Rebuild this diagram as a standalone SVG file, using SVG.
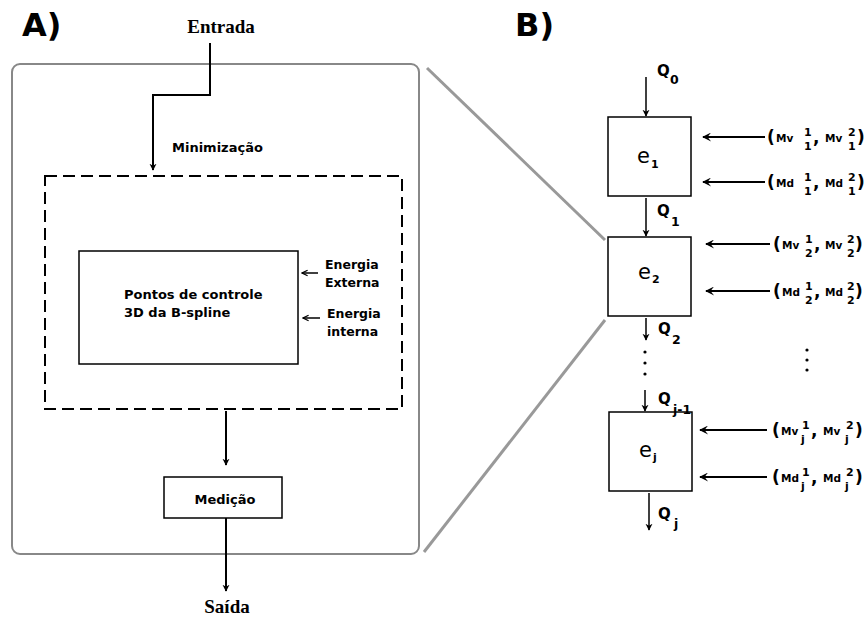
<svg xmlns="http://www.w3.org/2000/svg" width="867" height="618" viewBox="0 0 867 618">
<defs>
<style>
.b{font-family:"DejaVu Sans",sans-serif;font-weight:bold;fill:#000}
.ser{font-family:"Liberation Serif",serif;font-weight:bold;font-size:19px;fill:#000}
.big{font-size:32px}
.t13{font-size:13px}
.ln{stroke:#000;stroke-width:2;fill:none}
.thin{stroke:#000;stroke-width:1.5;fill:none}
.box{fill:#fff;stroke:#000;stroke-width:1.5}
.gray{stroke:#999;stroke-width:3;fill:none}
.e{font-family:"DejaVu Sans",sans-serif;font-size:21px;fill:#000}
.sub{font-family:"DejaVu Sans",sans-serif;font-weight:bold;font-size:11px;fill:#000}
.qs{font-family:"DejaVu Sans",sans-serif;font-weight:bold;font-size:12.5px;fill:#000}
.q{font-family:"DejaVu Sans",sans-serif;font-weight:bold;font-size:15px;fill:#000}
.par{font-family:"DejaVu Sans",sans-serif;font-weight:bold;font-size:17px;fill:#000}
.m{font-family:"DejaVu Sans",sans-serif;font-weight:bold;font-size:10.5px;fill:#000}
</style>
<marker id="ah" viewBox="0 0 10 10" refX="9" refY="5" markerWidth="7" markerHeight="9" markerUnits="userSpaceOnUse" orient="auto">
<path d="M0,0 L10,5 L0,10 L3,5 z" fill="#000"/>
</marker>
<marker id="ahw" viewBox="0 0 10 10" refX="9" refY="5" markerWidth="11" markerHeight="9" markerUnits="userSpaceOnUse" orient="auto">
<path d="M0,0 L10,5 L0,10 L4,5 z" fill="#000"/>
</marker>
<marker id="ao" viewBox="0 0 10 10" refX="9" refY="5" markerWidth="7" markerHeight="8" markerUnits="userSpaceOnUse" orient="auto">
<path d="M1,1 L9,5 L1,9" fill="none" stroke="#000" stroke-width="1.8"/>
</marker>
</defs>
<rect width="867" height="618" fill="#fff"/>

<text class="b big" x="22" y="36">A)</text>
<text class="b big" x="515" y="36">B)</text>

<g id="outer">
<rect x="12" y="64" width="407" height="490" rx="8" fill="none" stroke="#888" stroke-width="2"/>
</g>

<g id="zoomlines">
<line class="gray" x1="427" y1="68" x2="605" y2="240"/>
<line class="gray" x1="605" y1="320" x2="424" y2="552"/>
</g>

<g id="entrada"><text class="ser" x="221" y="33" text-anchor="middle">Entrada</text></g>
<g id="saida"><text class="ser" x="227" y="613" text-anchor="middle">Saída</text></g>
<g id="minimizacao-label"><text class="b t13" x="172" y="152">Minimização</text></g>

<g id="minimizacao">
<rect x="45" y="176" width="357" height="233" fill="none" stroke="#000" stroke-width="2" stroke-dasharray="12 6"/>
</g>

<g id="pontos">
<rect class="box" x="79" y="251" width="219" height="113"/>
<text class="b t13" x="124" y="299">Pontos de controle</text>
<text class="b t13" x="124" y="317">3D da B-spline</text>
</g>

<g id="energia-externa">
<text class="b" font-size="12.5" x="325" y="269">Energia</text>
<text class="b" font-size="12.5" x="325" y="287">Externa</text>
</g>
<g id="energia-interna">
<text class="b" font-size="12.5" x="327" y="318">Energia</text>
<text class="b" font-size="12.5" x="327" y="336">interna</text>
</g>

<g id="medicao">
<rect class="box" x="164" y="477" width="118" height="41"/>
<text class="b t13" x="225" y="504" text-anchor="middle">Medição</text>
</g>

<g id="e1">
<rect class="box" x="608" y="117" width="83" height="79"/>
<text class="e" x="637" y="163">e</text><text class="sub" x="651" y="168">1</text>
</g>
<g id="e2">
<rect class="box" x="608" y="237" width="83" height="79"/>
<text class="e" x="638" y="279">e</text><text class="sub" x="652" y="283">2</text>
</g>
<g id="ej">
<rect class="box" x="609" y="412" width="83" height="79"/>
<text class="e" x="639" y="457">e</text><text class="sub" x="653" y="461">j</text>
</g>

<g id="q-labels">
<text class="q" x="657" y="76">Q</text><text class="qs" x="670" y="84">0</text>
<text class="q" x="657" y="216">Q</text><text class="qs" x="671" y="226">1</text>
<text class="q" x="658" y="334">Q</text><text class="qs" x="672" y="344">2</text>
<text class="q" x="658" y="404">Q</text><text class="qs" x="673" y="414">j-1</text>
<text class="q" x="658" y="519">Q</text><text class="qs" x="674" y="528">j</text>
</g>

<g id="dots" fill="#000">
<circle cx="645" cy="352" r="1.6"/><circle cx="645" cy="363" r="1.6"/><circle cx="645" cy="374" r="1.6"/>
<circle cx="807" cy="350" r="1.6"/><circle cx="807" cy="360" r="1.6"/><circle cx="807" cy="370" r="1.6"/>
</g>

<g id="mv1" transform="translate(767,137)">
<text class="par" x="0" y="6">(</text><text class="m" x="9" y="5">Mv</text>
<text class="sub" x="37" y="-1">1</text><text class="sub" x="37" y="13">1</text>
<text class="par" x="46" y="6" font-size="12">,</text><text class="m" x="58" y="5">Mv</text>
<text class="sub" x="81" y="-1">2</text><text class="sub" x="81" y="13">1</text>
<text class="par" x="90" y="6">)</text>
</g>
<g id="md1" transform="translate(767,182)">
<text class="par" x="0" y="6">(</text><text class="m" x="9" y="5">Md</text>
<text class="sub" x="37" y="-1">1</text><text class="sub" x="37" y="13">1</text>
<text class="par" x="46" y="6" font-size="12">,</text><text class="m" x="58" y="5">Md</text>
<text class="sub" x="81" y="-1">2</text><text class="sub" x="81" y="13">1</text>
<text class="par" x="90" y="6">)</text>
</g>
<g id="mv2" transform="translate(773,244)">
<text class="par" x="0" y="6">(</text><text class="m" x="9" y="5">Mv</text>
<text class="sub" x="32" y="-1">1</text><text class="sub" x="32" y="13">2</text>
<text class="par" x="41" y="6" font-size="12">,</text><text class="m" x="52" y="5">Mv</text>
<text class="sub" x="74" y="-1">2</text><text class="sub" x="74" y="13">2</text>
<text class="par" x="82" y="6">)</text>
</g>
<g id="md2" transform="translate(773,291)">
<text class="par" x="0" y="6">(</text><text class="m" x="9" y="5">Md</text>
<text class="sub" x="32" y="-1">1</text><text class="sub" x="32" y="13">2</text>
<text class="par" x="41" y="6" font-size="12">,</text><text class="m" x="52" y="5">Md</text>
<text class="sub" x="74" y="-1">2</text><text class="sub" x="74" y="13">2</text>
<text class="par" x="82" y="6">)</text>
</g>
<g id="mvj" transform="translate(772,430)">
<text class="par" x="0" y="6">(</text><text class="m" x="9" y="5">Mv</text>
<text class="sub" x="30" y="-1">1</text><text class="sub" x="29" y="13">j</text>
<text class="par" x="39" y="6" font-size="12">,</text><text class="m" x="51" y="5">Mv</text>
<text class="sub" x="74" y="-1">2</text><text class="sub" x="73" y="13">j</text>
<text class="par" x="83" y="6">)</text>
</g>
<g id="mdj" transform="translate(772,477)">
<text class="par" x="0" y="6">(</text><text class="m" x="9" y="5">Md</text>
<text class="sub" x="30" y="-1">1</text><text class="sub" x="29" y="13">j</text>
<text class="par" x="39" y="6" font-size="12">,</text><text class="m" x="51" y="5">Md</text>
<text class="sub" x="74" y="-1">2</text><text class="sub" x="73" y="13">j</text>
<text class="par" x="83" y="6">)</text>
</g>

<g id="connectors">
<polyline class="ln" points="210,43 210,95 153,95 153,170" marker-end="url(#ah)"/>
<line class="ln" x1="226" y1="411" x2="226" y2="465" marker-end="url(#ah)"/>
<line class="ln" x1="226" y1="518" x2="226" y2="591" marker-end="url(#ah)"/>
<line class="thin" x1="318" y1="273" x2="302" y2="273" marker-end="url(#ao)"/>
<line class="thin" x1="320" y1="318" x2="303" y2="318" marker-end="url(#ao)"/>
<line class="thin" x1="646" y1="77" x2="646" y2="116" marker-end="url(#ah)"/>
<line class="thin" x1="646" y1="198" x2="646" y2="236" marker-end="url(#ah)"/>
<line class="thin" x1="646" y1="318" x2="646" y2="340" marker-end="url(#ah)"/>
<line class="thin" x1="645" y1="390" x2="645" y2="411" marker-end="url(#ah)"/>
<line class="thin" x1="649" y1="493" x2="649" y2="530" marker-end="url(#ah)"/>
<line class="ln" x1="765" y1="137" x2="703" y2="137" marker-end="url(#ahw)"/>
<line class="ln" x1="765" y1="182" x2="703" y2="182" marker-end="url(#ahw)"/>
<line class="ln" x1="770" y1="244" x2="706" y2="244" marker-end="url(#ahw)"/>
<line class="ln" x1="770" y1="291" x2="706" y2="291" marker-end="url(#ahw)"/>
<line class="ln" x1="767" y1="430" x2="700" y2="430" marker-end="url(#ahw)"/>
<line class="ln" x1="767" y1="477" x2="700" y2="477" marker-end="url(#ahw)"/>
</g>
</svg>
